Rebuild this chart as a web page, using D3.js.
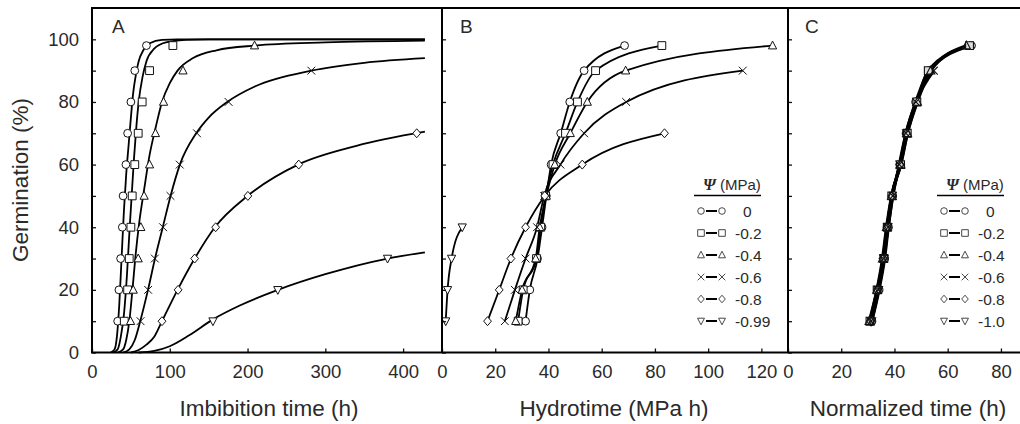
<!DOCTYPE html>
<html>
<head>
<meta charset="utf-8">
<script src="https://cdn.jsdelivr.net/npm/d3@7"></script>
<style>
  body { margin: 0; background: #fff; }
  text { font-family: "Liberation Sans", Arial, sans-serif; fill: #2a2a2a; }
</style>
</head>
<body>
<svg id="chart"></svg>
<script>
// germination percentiles shared by every series
var pct = [10, 20, 30, 40, 50, 60, 70, 80, 90, 98];

// legend labels (water potential, MPa)
var psiB = ["0", "-0.2", "-0.4", "-0.6", "-0.8", "-0.99"];
var psiC = ["0", "-0.2", "-0.4", "-0.6", "-0.8", "-1.0"];

// A: imbibition time (h) to reach each percentile
var imbib0   = [33, 34.6, 36.8, 39, 40, 43.6, 45.8, 50, 55, 70];
var imbib02  = [41.5, 45.8, 47.9, 50, 51.7, 55, 59.4, 64.5, 74, 104];
var imbib04  = [49.6, 53, 59.4, 62.8, 67, 74, 81.6, 92, 117, 209];
var imbib06  = [62.4, 72.2, 80.8, 91.4, 100.9, 112.8, 135, 175.6, 282];
var imbib08  = [90, 110.7, 132, 159, 200.4, 265.8, 417.5];
var imbib099 = [155.5, 238.9, 380];

// A: fitted curves as [time, %]
var fit0   = [[24,0],[29,1],[32,5],[35,15],[38,30],[41,45],[44,57],[47,66],[50,75],[53,83],[56,88],[60,93],[66,96.5],[75,98.8],[90,99.8],[110,100],[428,100]];
var fit02  = [[27,0],[33,1],[37,5],[41,12],[45,25],[48,38],[51,50],[54,62],[57,72],[60,80],[65,88],[70,93],[80,97],[95,99],[120,99.8],[150,100],[428,100]];
var fit04  = [[33,0],[40,1],[44,4],[48,10],[52,20],[56,31],[61,42],[67,52],[74,63],[82,72],[90,80],[100,86],[110,90],[130,94],[160,96.5],[210,98],[300,99],[428,99.6]];
var fit06  = [[40,0],[48,1],[55,4],[62,10],[72,20],[81,30],[91,40],[101,50],[113,60],[134,70],[150,75],[174,80],[210,85],[282,90],[350,92.5],[428,94]];
var fit08  = [[50,0],[60,0.8],[70,2.5],[80,5],[90,10],[110,20],[132,30],[158,40],[200,50],[265,60],[340,66],[428,70.5]];
var fit099 = [[60,0],[80,0.5],[100,2],[125,5.5],[155,10.5],[190,15],[239,20],[300,25],[380,30],[428,32]];

// B: hydrotime (MPa h)
var hydro0   = [31.4, 33, 35.9, 37.6, 39.2, 41, 44.6, 48, 53.4, 68.6];
var hydro02  = [28.6, 30.5, 35.5, 37.1, 38.9, 41.7, 46.4, 50.9, 57.7, 82.6];
var hydro04  = [27.7, 30.1, 35.2, 36.7, 39.2, 42.4, 48.2, 54.6, 69, 124.2];
var hydro06  = [23.6, 27.4, 31.4, 35.7, 38.4, 44.5, 53.4, 69.2, 113];
var hydro08  = [17.1, 21.5, 25.9, 31.4, 38.6, 52.7, 83.6];
var hydro099 = [1.4, 2.1, 3.6, 7.6];

// C: normalized time (h)
var norm0  = [31.5, 34.2, 36.3, 37.7, 39.3, 42.0, 44.4, 48.0, 53.0, 68.9];
var norm02 = [30.8, 33.5, 36.0, 37.3, 39.0, 42.3, 44.8, 48.4, 52.7, 68.2];
var norm04 = [30.5, 33.4, 35.5, 37.0, 38.9, 42.4, 44.9, 48.6, 53.6, 67.0];
var norm06 = [31.2, 33.9, 35.8, 37.6, 39.4, 41.8, 44.3, 48.1, 54.8];
var norm08 = [31.0, 33.6, 35.7, 37.2, 39.0, 42.1, 44.5];
var norm10 = [31.4, 34.0, 36.1, 37.5];

var shapes = ["circle", "square", "triangle", "cross", "diamond", "triangleDown"];

var W = 1020, H = 424;
var svg = d3.select("#chart").attr("width", W).attr("height", H);

var y = d3.scaleLinear().domain([0, 110]).range([352.5, 8]);
var xA = d3.scaleLinear().domain([0, 450]).range([92, 442]);
var xB = d3.scaleLinear().domain([0, 130]).range([442, 788]);
var xC = d3.scaleLinear().domain([0, 87.5]).range([788, 1020.9]);

function toPts(arr) {
  return arr.map(function(v, i) { return [v, pct[i]]; });
}

function shapePath(type, h) {
  switch (type) {
    case "circle": return d3.symbol(d3.symbolCircle, Math.PI * h * h)();
    case "square": return "M" + (-h) + "," + (-h) + "h" + 2*h + "v" + 2*h + "h" + (-2*h) + "Z";
    case "triangle": return "M0," + (-h*1.15) + "L" + h*1.05 + "," + h*0.85 + "L" + (-h*1.05) + "," + h*0.85 + "Z";
    case "triangleDown": return "M0," + h*1.15 + "L" + h*1.05 + "," + (-h*0.85) + "L" + (-h*1.05) + "," + (-h*0.85) + "Z";
    case "cross": return "M" + (-h) + "," + (-h) + "L" + h + "," + h + "M" + (-h) + "," + h + "L" + h + "," + (-h);
    case "diamond": return "M0," + (-h*1.15) + "L" + h + ",0L0," + h*1.15 + "L" + (-h) + ",0Z";
  }
}

function drawMarkers(g, pts, x, type, fill, sw) {
  g.selectAll(null)
    .data(pts).enter().append("path")
    .attr("d", shapePath(type, 3.9))
    .attr("transform", function(d) { return "translate(" + x(d[0]) + "," + y(d[1]) + ")"; })
    .style("fill", fill)
    .style("stroke", "#111")
    .style("stroke-width", sw);
}

function drawLine(g, pts, x, sw) {
  g.append("path")
    .attr("d", d3.line().x(function(d) { return x(d[0]); }).y(function(d) { return y(d[1]); }).curve(d3.curveMonotoneX)(pts))
    .style("fill", "none")
    .style("stroke", "#000")
    .style("stroke-width", sw);
}

// panel A
var gA = svg.append("g");
[fit0, fit02, fit04, fit06, fit08, fit099].forEach(function(f) { drawLine(gA, f, xA, 1.8); });
[imbib0, imbib02, imbib04, imbib06, imbib08, imbib099].forEach(function(s, i) {
  drawMarkers(gA, toPts(s), xA, shapes[i], "#fff", 1);
});

// panel B
var gB = svg.append("g");
var hydro = [hydro0, hydro02, hydro04, hydro06, hydro08, hydro099];
hydro.forEach(function(s) { drawLine(gB, toPts(s), xB, 1.8); });
hydro.forEach(function(s, i) { drawMarkers(gB, toPts(s), xB, shapes[i], "#fff", 1); });

// panel C
var gC = svg.append("g");
var norm = [norm0, norm02, norm04, norm06, norm08, norm10];
norm.forEach(function(s) { drawLine(gC, toPts(s), xC, 3); });
norm.forEach(function(s, i) { drawMarkers(gC, toPts(s), xC, shapes[i], i === 1 ? "#ddd" : "none", 1.1); });

// axes
function styleAxis(g) {
  g.select(".domain").remove();
  g.selectAll(".tick line").style("stroke", "#111").style("stroke-width", 1.3);
  g.selectAll("text").style("font-size", "18.5px").style("font-family", "'Liberation Sans', Arial, sans-serif").attr("fill", "#2a2a2a");
}

[[xA, [0,100,200,300,400]], [xB, [0,20,40,60,80,100,120]], [xC, [0,20,40,60,80]]].forEach(function(a) {
  svg.append("g")
    .attr("transform", "translate(0,352.5)")
    .call(d3.axisBottom(a[0]).tickValues(a[1]).tickSizeInner(-4).tickSizeOuter(0).tickPadding(12))
    .call(styleAxis);
});

svg.append("g")
  .attr("transform", "translate(92,0)")
  .call(d3.axisLeft(y).tickValues(d3.range(0, 101, 10))
    .tickFormat(function(d) { return d % 20 === 0 ? d : ""; })
    .tickSizeInner(-4).tickSizeOuter(0).tickPadding(13))
  .call(styleAxis);

[442, 788].forEach(function(px) {
  svg.append("g")
    .attr("transform", "translate(" + px + ",0)")
    .call(d3.axisLeft(y).tickValues(d3.range(0, 101, 10)).tickFormat("").tickSizeInner(-4).tickSizeOuter(0))
    .call(styleAxis);
});

// frame
svg.append("rect")
  .attr("x", 92).attr("y", 8).attr("width", 932).attr("height", 344.5)
  .style("fill", "none").style("stroke", "#000").style("stroke-width", 2);
[442, 788].forEach(function(px) {
  svg.append("line").attr("x1", px).attr("x2", px).attr("y1", 8).attr("y2", 352.5)
    .style("stroke", "#000").style("stroke-width", 2);
});

// titles
function label(txt, x0, y0, size, anchor) {
  return svg.append("text").attr("x", x0).attr("y", y0)
    .style("font-size", size + "px").style("text-anchor", anchor || "middle").text(txt);
}
label("Imbibition time (h)", 269, 416, 22.5);
label("Hydrotime (MPa h)", 614, 416, 22.5);
label("Normalized time (h)", 908, 416, 22.5);
svg.append("text")
  .attr("transform", "translate(28,180) rotate(-90)")
  .style("font-size", "22.5px").style("text-anchor", "middle")
  .text("Germination (%)");

label("A", 112, 33, 19, "start");
label("B", 460, 33, 19, "start");
label("C", 805, 33, 19, "start");

// legends
function legend(left, labels) {
  var t = svg.append("text").attr("x", left + 9).attr("y", 190);
  t.append("tspan").text("\u03A8")
    .style("font-family", "'Liberation Serif', 'DejaVu Serif', serif")
    .style("font-weight", "bold").style("font-style", "italic").style("font-size", "16px");
  t.append("tspan").text(" (MPa)").style("font-size", "15px");
  svg.append("line").attr("x1", left).attr("x2", left + 67).attr("y1", 195.5).attr("y2", 195.5)
    .style("stroke", "#000").style("stroke-width", 1.5);
  labels.forEach(function(lab, i) {
    var ry = 211 + 22 * i;
    svg.append("line").attr("x1", left + 12).attr("x2", left + 23).attr("y1", ry).attr("y2", ry)
      .style("stroke", "#000").style("stroke-width", 2);
    [left + 7, left + 28].forEach(function(sx) {
      svg.append("path").attr("d", shapePath(shapes[i], 3.3))
        .attr("transform", "translate(" + sx + "," + ry + ")")
        .style("fill", "#fff").style("stroke", "#333").style("stroke-width", 0.9);
    });
    svg.append("text").attr("x", lab === "0" ? left + 49 : left + 41).attr("y", ry + 5.5)
      .style("font-size", "15.5px").text(lab);
  });
}
legend(694, psiB);
legend(937, psiC);
</script>
</body>
</html>
